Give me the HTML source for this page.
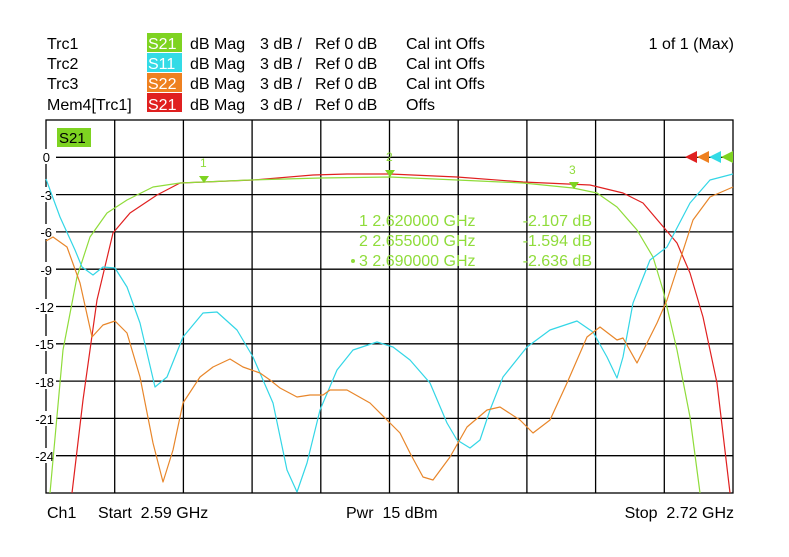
<!DOCTYPE html><html><head><style>body{margin:0;background:#fff}svg{display:block}text{font-family:"Liberation Sans",sans-serif;white-space:pre}</style></head><body>
<svg width="789" height="557" xmlns="http://www.w3.org/2000/svg" xml:space="preserve">
<g font-size="16" fill="#000">
<text x="47" y="49">Trc1</text><text x="47" y="69">Trc2</text><text x="47" y="89">Trc3</text><text x="47" y="110">Mem4[Trc1]</text>
<rect x="147" y="33" width="35" height="19" fill="#7ed321"/><text x="148" y="49" fill="#fff">S21</text>
<rect x="147" y="53" width="35" height="19" fill="#33dbe6"/><text x="148" y="69" fill="#fff">S11</text>
<rect x="147" y="73" width="35" height="19" fill="#ee8020"/><text x="148" y="89" fill="#fff">S22</text>
<rect x="147" y="93" width="35" height="19" fill="#e02020"/><text x="148" y="110" fill="#fff">S21</text>
<text x="190" y="49">dB Mag</text><text x="190" y="69">dB Mag</text><text x="190" y="89">dB Mag</text><text x="190" y="110">dB Mag</text>
<text x="260" y="49">3 dB /</text><text x="260" y="69">3 dB /</text><text x="260" y="89">3 dB /</text><text x="260" y="110">3 dB /</text>
<text x="315" y="49">Ref 0 dB</text><text x="315" y="69">Ref 0 dB</text><text x="315" y="89">Ref 0 dB</text><text x="315" y="110">Ref 0 dB</text>
<text x="406" y="49">Cal int Offs</text><text x="406" y="69">Cal int Offs</text><text x="406" y="89">Cal int Offs</text><text x="406" y="110">Offs</text>
<text x="734" y="49" text-anchor="end">1 of 1 (Max)</text>
<text x="47" y="518">Ch1</text><text x="98" y="518">Start  2.59 GHz</text><text x="346" y="518">Pwr  15 dBm</text><text x="734" y="518" text-anchor="end">Stop  2.72 GHz</text>
</g>
<g stroke="#000" stroke-width="1.3" fill="none">
<rect x="46" y="120" width="687" height="373"/>
<path d="M114.7 120V493M183.4 120V493M252.1 120V493M320.8 120V493M389.5 120V493M458.2 120V493M526.9 120V493M595.6 120V493M664.3 120V493"/>
<path d="M46 157.3H733M46 194.6H733M46 231.9H733M46 269.2H733M46 306.5H733M46 343.8H733M46 381.1H733M46 418.4H733M46 455.7H733"/>
</g>
<rect x="57" y="128" width="34" height="19" fill="#7ed321"/><text x="59" y="143" font-size="15">S21</text>
<g font-size="13" text-anchor="end" fill="#000">
<rect x="34" y="149" width="22" height="15" fill="#fff"/><text x="50" y="162">0</text>
<rect x="30" y="187" width="26" height="15" fill="#fff"/><text x="52" y="200">-3</text>
<rect x="30" y="224" width="26" height="15" fill="#fff"/><text x="52" y="237">-6</text>
<rect x="30" y="262" width="26" height="15" fill="#fff"/><text x="52" y="275">-9</text>
<rect x="26" y="299" width="30" height="15" fill="#fff"/><text x="54" y="312">-12</text>
<rect x="26" y="336" width="30" height="15" fill="#fff"/><text x="54" y="349">-15</text>
<rect x="26" y="374" width="30" height="15" fill="#fff"/><text x="54" y="387">-18</text>
<rect x="26" y="411" width="30" height="15" fill="#fff"/><text x="54" y="424">-21</text>
<rect x="26" y="448" width="30" height="15" fill="#fff"/><text x="54" y="461">-24</text>
</g>
<g fill="none" stroke-width="1.2" stroke-linejoin="round">
<polyline stroke="#e02020" points="72,493 83,400 97,300 113,233 130,213 157,195 180,183 253,180 313,175 347,174 390,174 457,177 523,182 590,185 623,193 643,203 660,223 677,243 690,273 703,317 717,383 730,493"/>
<polyline stroke="#8fdc3a" points="50,493 63,350 77,277 90,237 107,213 127,200 153,187 180,183 250,180 320,178 390,177 457,180 523,183 573,188 597,193 617,207 637,230 653,257 663,290 677,350 690,417 700,493"/>
<polyline stroke="#33d6e6" points="46,179 60,217 75,250 82,267 93,275 103,267 115,268 127,287 140,323 155,387 167,377 183,337 203,313 217,312 237,330 253,357 273,403 287,470 297,492 307,463 320,410 337,370 353,350 377,342 393,347 410,360 430,383 447,423 457,440 470,448 480,440 490,410 503,377 527,347 550,330 577,321 593,332 607,357 617,378 623,357 633,303 650,260 667,247 690,203 710,180 733,174"/>
<polyline stroke="#e8862a" points="46,241 53,237 67,247 80,283 92,337 103,325 115,321 127,333 140,377 153,443 163,482 173,450 183,403 200,377 213,367 230,359 243,367 260,373 270,380 280,388 297,397 310,395 323,395 330,390 347,390 370,403 387,420 400,433 410,453 423,477 433,480 450,457 467,427 487,410 500,407 520,420 533,433 550,420 567,383 587,337 600,327 617,340 623,338 637,363 647,343 657,323 667,300 680,260 693,220 710,197 733,187"/>
</g>
<g fill="#7ed321">
<path d="M199 176h10l-5 7z"/><path d="M385 170h10l-5 7z"/><path d="M569 182h10l-5 7z"/>
<path d="M685 157l12-6v12z" fill="#e02020"/><path d="M697 157l12-6v12z" fill="#ee8020"/><path d="M709 157l12-6v12z" fill="#33dbe6"/><path d="M721 157l12-6v12z"/>
</g>
<g fill="#8fdc3a" font-size="16">
<text x="200" y="167" font-size="12">1</text><text x="386" y="161" font-size="12">2</text><text x="569" y="174" font-size="12">3</text>
<text x="359" y="226">1 2.620000 GHz</text><text x="592" y="226" text-anchor="end">-2.107 dB</text>
<text x="359" y="246">2 2.655000 GHz</text><text x="592" y="246" text-anchor="end">-1.594 dB</text>
<text x="359" y="266">3 2.690000 GHz</text><text x="592" y="266" text-anchor="end">-2.636 dB</text>
<circle cx="353" cy="261" r="2"/>
</g>
</svg></body></html>
